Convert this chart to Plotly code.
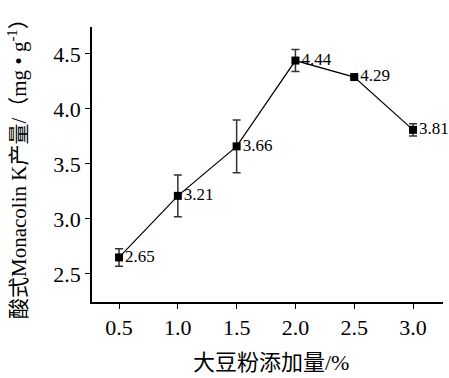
import plotly.graph_objects as go

x_vals = [0.5, 1.0, 1.5, 2.0, 2.5, 3.0]
y_vals = [2.65, 3.21, 3.66, 4.44, 4.29, 3.81]
y_err = [0.08, 0.19, 0.24, 0.10, 0.01, 0.055]
labels = ["2.65", "3.21", "3.66", "4.44", "4.29", "3.81"]
x_ticks = [0.5, 1.0, 1.5, 2.0, 2.5, 3.0]
x_ticklabels = ["0.5", "1.0", "1.5", "2.0", "2.5", "3.0"]
y_ticks = [2.5, 3.0, 3.5, 4.0, 4.5]
y_ticklabels = ["2.5", "3.0", "3.5", "4.0", "4.5"]
x_title = "大豆粉添加量/%"
y_title = "酸式Monacolin K产量/（mg • g<sup>-1</sup>）"

FONT = "Liberation Serif, Times New Roman, Noto Sans CJK SC, serif"

L, R, T, B = 92, 6, 27, 76
W, H = 449, 378
pw = W - L - R
ph = H - T - B

fig = go.Figure()
fig.add_trace(go.Scatter(
    x=x_vals, y=y_vals,
    mode="lines+markers+text",
    line=dict(color="black", width=1.2),
    marker=dict(symbol="square", size=8, color="black"),
    error_y=dict(type="data", array=y_err, visible=True, color="#333333", thickness=1.5, width=4),
    text=labels, textposition="middle right",
    textfont=dict(family=FONT, size=17, color="black"),
    cliponaxis=False,
    showlegend=False,
))

fig.update_layout(
    width=W, height=H,
    margin=dict(l=L, r=R, t=T, b=B, autoexpand=False),
    paper_bgcolor="white", plot_bgcolor="white",
    font=dict(family=FONT, color="black"),
    xaxis=dict(
        range=[0.27, 3.255], automargin=False,
        tickvals=x_ticks, ticktext=x_ticklabels,
        ticks="outside", ticklen=5, tickwidth=1.2, tickcolor="black",
        showline=True, linecolor="black", linewidth=1.5,
        showgrid=False, zeroline=False,
        tickfont=dict(family=FONT, size=22),
    ),
    yaxis=dict(
        range=[2.245, 4.745], automargin=False,
        tickvals=y_ticks, ticktext=y_ticklabels,
        ticks="outside", ticklen=5, tickwidth=1.2, tickcolor="black",
        showline=True, linecolor="black", linewidth=1.5,
        showgrid=False, zeroline=False,
        tickfont=dict(family=FONT, size=22),
    ),
    annotations=[
        dict(text=x_title, xref="paper", yref="paper",
             x=(271 - L) / pw, y=-(362 - (T + ph)) / ph,
             xanchor="center", yanchor="middle", showarrow=False,
             font=dict(family=FONT, size=22, color="black")),
        dict(text=y_title, xref="paper", yref="paper",
             x=-(L - 17) / pw, y=(H - B - 164) / ph,
             xanchor="center", yanchor="middle", showarrow=False, textangle=-90,
             font=dict(family=FONT, size=21, color="black")),
    ],
)

fig.write_html("out.html", config={"displayModeBar": False},
               post_script="document.body.style.margin='0';document.body.style.overflow='hidden';")
